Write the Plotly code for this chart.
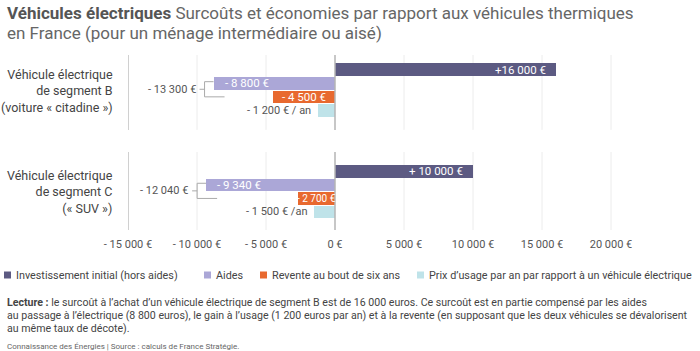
import plotly.graph_objects as go

# ---------------- data ----------------
categories = ["Véhicule électrique<br>de segment B<br>(voiture « citadine »)",
              "Véhicule électrique<br>de segment C<br>(« SUV »)"]
invest = [16000, 10000]
aides = [-8800, -9340]
revente = [-4500, -2700]
usage = [-1200, -1500]
totals = [-13300, -12040]
invest_labels = ["+16 000 €", "+ 10 000 €"]
aides_labels = ["- 8 800 €", "- 9 340 €"]
revente_labels = ["- 4 500 €", "- 2 700 €"]
usage_labels = ["- 1 200 € / an", "- 1 500 € /an"]
total_labels = ["- 13 300 €", "- 12 040 €"]
tick_vals = [-15000, -10000, -5000, 0, 5000, 10000, 15000, 20000]
tick_labels = ["- 15 000 €", "- 10 000 €", "- 5 000 €", "0 €",
               "5 000 €", "10 000 €", "15 000 €", "20 000 €"]
series_names = ["Investissement initial (hors aides)", "Aides",
                "Revente au bout de six ans",
                "Prix d’usage par an par rapport à un véhicule électrique"]

# ---------------- layout constants ----------------
W, H = 700, 351
L, R, T, B = 128, 27, 55, 121
PW, PH = W - L - R, H - T - B
PX_PER_EUR = 0.0138
XR = [-15000, -15000 + PW / PX_PER_EUR]
YR = [11.83, -1.09]
group_base = [0, 7.5]
colors = ["#5c5a82", "#aba7d7", "#e8692f", "#bfe3e9"]
FONT = "Roboto"
TXT = "#444444"


def px(xpix):
    return (xpix - L) / PW


def py(ypix):
    return (T + PH - ypix) / PH


fig = go.Figure()
series = [invest, aides, revente, usage]
for k, vals in enumerate(series):
    fig.add_trace(go.Bar(
        x=vals, y=[g + k for g in group_base], orientation="h",
        width=0.93, marker=dict(color=colors[k], line=dict(width=0)),
        name=series_names[k], showlegend=False, hoverinfo="skip"))

shapes = []
ann = []

# grid segments per row
row_spans = [(-1.09, 4.44), (6.07, 11.83)]
for y0, y1 in row_spans:
    for tv in tick_vals:
        if tv == -15000:
            col, wd = "#d0d0d0", 2
        elif tv == 0:
            col, wd = "#b4b4b4", 1.5
        else:
            col, wd = "#ececec", 1
        shapes.append(dict(type="line", xref="x", yref="y", x0=tv, x1=tv,
                           y0=y0, y1=y1, line=dict(color=col, width=wd),
                           layer="below" if tv != 0 else "above"))

for i in range(2):
    g = group_base[i]
    # invest label
    ann.append(dict(x=invest[i], y=g, xref="x", yref="y", text=invest_labels[i],
                    xanchor="right", xshift=-8, showarrow=False,
                    font=dict(family=FONT, size=11.5, color="white")))
    # aides label
    ann.append(dict(x=aides[i], y=g + 1, xref="x", yref="y", text=aides_labels[i],
                    xanchor="left", xshift=9, showarrow=False,
                    font=dict(family=FONT, size=11.5, color="white")))
    # revente label
    wpx = abs(revente[i]) * PX_PER_EUR
    if wpx > 50:
        ann.append(dict(x=revente[i], y=g + 2, xref="x", yref="y", text=revente_labels[i],
                        xanchor="left", xshift=7, showarrow=False,
                        font=dict(family=FONT, size=11.5, color="white")))
    else:
        ann.append(dict(x=revente[i] / 2, y=g + 2, xref="x", yref="y", text=revente_labels[i],
                        xanchor="center", showarrow=False,
                        font=dict(family=FONT, size=10, color="white")))
    # usage label
    ann.append(dict(x=usage[i], y=g + 3, xref="x", yref="y", text=usage_labels[i],
                    xanchor="right", xshift=-5, showarrow=False,
                    font=dict(family=FONT, size=11, color="#555555")))
    # bracket
    ytop, ybot = g + 0.88, g + 2
    ymid = (ytop + ybot) / 2
    bc = dict(color="#aaaaaa", width=1)
    for (x0, x1, y0, y1) in [(-9, -9, ytop, ybot), (-9, 0, ytop, ytop),
                             (-9, 11, ybot, ybot), (-14, -9, ymid, ymid)]:
        shapes.append(dict(type="line", xref="x", yref="y", xsizemode="pixel",
                           xanchor=aides[i], x0=x0, x1=x1, y0=y0, y1=y1, line=bc))
    ann.append(dict(x=aides[i], y=ymid, xref="x", yref="y", text=total_labels[i],
                    xanchor="right", xshift=-16, showarrow=False,
                    font=dict(family=FONT, size=11, color="#555555")))
    # category label
    ann.append(dict(x=px(115), y=g + 1.56, xref="paper", yref="y", text=categories[i],
                    xanchor="right", align="right", showarrow=False,
                    font=dict(family=FONT, size=12.5, color=TXT)))

# title
ann.append(dict(x=px(5), y=py(13), xref="paper", yref="paper", xanchor="left", yanchor="middle",
                text="<b>Véhicules électriques</b> <span style='color:#666666'>Surcoûts et économies par rapport aux véhicules thermiques</span>",
                showarrow=False, font=dict(family=FONT, size=17, color="#555555")))
ann.append(dict(x=px(5), y=py(33), xref="paper", yref="paper", xanchor="left", yanchor="middle",
                text="en France (pour un ménage intermédiaire ou aisé)",
                showarrow=False, font=dict(family=FONT, size=17, color="#666666")))

# legend
leg_x = [4, 204, 260, 417]
for k in range(4):
    shapes.append(dict(type="rect", xref="paper", yref="paper",
                       x0=px(leg_x[k]), x1=px(leg_x[k] + 7), y0=py(278.5), y1=py(271.5),
                       fillcolor=colors[k], line=dict(width=0)))
    ann.append(dict(x=px(leg_x[k] + 10), y=py(275), xref="paper", yref="paper",
                    xanchor="left", yanchor="middle", text=series_names[k], showarrow=False,
                    font=dict(family=FONT, size=10.8, color=TXT)))

# footnote
foot = ["<b>Lecture :</b> le surcoût à l’achat d’un véhicule électrique de segment B est de 16 000 euros. Ce surcoût est en partie compensé par les aides",
        "au passage à l’électrique (8 800 euros), le gain à l’usage (1 200 euros par an) et à la revente (en supposant que les deux véhicules se dévalorisent",
        "au même taux de décote)."]
for j, line in enumerate(foot):
    ann.append(dict(x=px(5), y=py(302 + 13 * j), xref="paper", yref="paper",
                    xanchor="left", yanchor="middle", text=line, showarrow=False,
                    font=dict(family=FONT, size=10.6, color=TXT)))
ann.append(dict(x=px(5), y=py(346), xref="paper", yref="paper", xanchor="left", yanchor="middle",
                text="Connaissance des Énergies | Source : calculs de France Stratégie.",
                showarrow=False, font=dict(family=FONT, size=8, color="#666666")))

fig.update_layout(
    width=W, height=H, margin=dict(l=L, r=R, t=T, b=B),
    paper_bgcolor="white", plot_bgcolor="white",
    barmode="overlay", bargap=0,
    shapes=shapes, annotations=ann,
    xaxis=dict(range=XR, tickvals=tick_vals, ticktext=tick_labels, showgrid=False,
               zeroline=False, showline=False, ticks="outside", ticklen=4,
               tickcolor="rgba(0,0,0,0)", tickfont=dict(family=FONT, size=11, color="#555555"),
               fixedrange=True),
    yaxis=dict(range=YR, showticklabels=False, showgrid=False, zeroline=False,
               showline=False, fixedrange=True),
    font=dict(family=FONT),
    showlegend=False,
)

fig.write_html("out.html")
